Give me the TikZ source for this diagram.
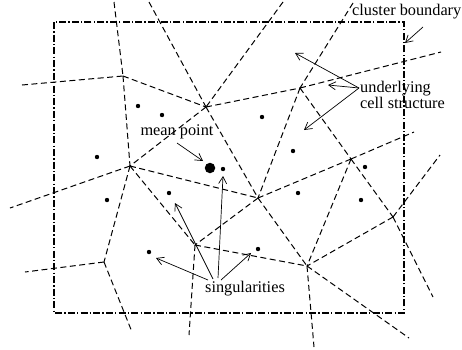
\documentclass[tikz,border=0pt]{standalone}
\usepackage{fontspec}
\setmainfont{Liberation Serif}
\usetikzlibrary{arrows.meta}
\begin{document}
\begin{tikzpicture}[x=1pt,y=-1pt,
  cell/.style={line width=1pt,dash pattern=on 6pt off 3.5pt},
  bound/.style={line width=1.6pt,dash pattern=on 7pt off 2.2pt on 1.3pt off 2.2pt},
  pt/.style={circle,fill=black,inner sep=0pt,minimum size=4.4pt},
  bigpt/.style={circle,fill=black,inner sep=0pt,minimum size=10.5pt},
  lbl/.style={inner sep=0pt,font=\fontsize{16.3}{13}\selectfont},
  arr/.style={line width=0.7pt,-{Straight Barb[length=7pt,width=8pt]}}]
\useasboundingbox (0,0) rectangle (462,349);
% boundary
\coordinate (b1) at (54,22);
\coordinate (b2) at (404,313);
\draw[bound] (b1) rectangle (b2);
% vertices
\coordinate (v1) at (123,76);
\coordinate (v2) at (206,107);
\coordinate (v3) at (130,166);
\coordinate (v4) at (300,88);
\coordinate (v5) at (351,159);
\coordinate (v6) at (258,198);
\coordinate (v7) at (393,217);
\coordinate (v8) at (307,266);
\coordinate (v9) at (195,245);
\coordinate (v10) at (104,262);
% outer ends
\coordinate (e1) at (114,2);
\coordinate (e2) at (22,85);
\coordinate (e3) at (149,2);
\coordinate (e4) at (283,2);
\coordinate (e5) at (353,3);
\coordinate (e6) at (441,52);
\coordinate (e7) at (414,132);
\coordinate (e8) at (440,155);
\coordinate (e9) at (433,297);
\coordinate (e10) at (409,338);
\coordinate (e11) at (314,347);
\coordinate (e12) at (189,335);
\coordinate (e13) at (132,332);
\coordinate (e14) at (25,272);
\coordinate (e15) at (10,208);
% cell edges
\draw[cell] (e1) -- (v1);
\draw[cell] (e2) -- (v1);
\draw[cell] (v1) -- (v2);
\draw[cell] (v1) -- (v3);
\draw[cell] (e3) -- (v2);
\draw[cell] (e4) -- (v2);
\draw[cell] (v2) -- (v4);
\draw[cell] (v2) -- (v3);
\draw[cell] (v2) -- (v6);
\draw[cell] (e5) -- (v4);
\draw[cell] (v4) -- (e6);
\draw[cell] (v4) -- (v5);
\draw[cell] (v4) -- (v6);
\draw[cell] (v5) -- (e7);
\draw[cell] (v5) -- (v6);
\draw[cell] (v5) -- (v8);
\draw[cell] (v5) -- (v7);
\draw[cell] (v7) -- (e8);
\draw[cell] (v7) -- (e9);
\draw[cell] (v7) -- (v8);
\draw[cell] (v3) -- (v6);
\draw[cell] (v6) -- (v9);
\draw[cell] (v6) -- (v8);
\draw[cell] (v3) -- (e15);
\draw[cell] (v3) -- (v10);
\draw[cell] (v3) -- (v9);
\draw[cell] (v10) -- (e14);
\draw[cell] (v10) -- (e13);
\draw[cell] (v9) -- (v8);
\draw[cell] (v9) -- (e12);
\draw[cell] (v8) -- (e11);
\draw[cell] (v8) -- (e10);
% points
\node[pt] (p1) at (138,106) {};
\node[pt] (p2) at (162,115) {};
\node[pt] (p3) at (97,157) {};
\node[pt] (p4) at (262,117) {};
\node[pt] (p5) at (223,169) {};
\node[pt] (p6) at (107,200) {};
\node[pt] (p7) at (169,193) {};
\node[pt] (p8) at (293,151) {};
\node[pt] (p9) at (298,193) {};
\node[pt] (p10) at (365,167) {};
\node[pt] (p11) at (361,200) {};
\node[pt] (p12) at (149,252) {};
\node[pt] (p13) at (258,249) {};
\node[bigpt] (mp) at (210,168) {};
% labels
\node[lbl] (lmean) at (177,132) {mean point};
\node[lbl,anchor=east] (lclus) at (461.5,12) {cluster boundary};
\node[lbl,align=left,anchor=west] (lcell) at (360,95) {underlying\\cell structure};
\node[lbl] (lsing) at (245,289) {singularities};
% arrows
\coordinate (am0) at (177,143);
\coordinate (am1) at (203,161);
\draw[arr] (am0) -- (am1);
\coordinate (ac0) at (423,27);
\coordinate (ac1) at (405,43);
\draw[arr] (ac0) -- (ac1);
\coordinate (au0) at (359,88);
\coordinate (au1) at (295,53);
\coordinate (au2) at (328,85);
\coordinate (au3) at (304,130);
\draw[arr] (au0) -- (au1);
\draw[arr] (au0) -- (au2);
\draw[arr] (au0) -- (au3);
\coordinate (as0) at (208,280);
\coordinate (as1) at (213,279);
\coordinate (as2) at (218,278);
\coordinate (as3) at (221,280);
\coordinate (at0) at (156,258);
\coordinate (at1) at (175,203);
\coordinate (at2) at (223,176);
\coordinate (at3) at (251,253);
\draw[arr] (as0) -- (at0);
\draw[arr] (as1) -- (at1);
\draw[arr] (as2) -- (at2);
\draw[arr] (as3) -- (at3);
\end{tikzpicture}
\end{document}
